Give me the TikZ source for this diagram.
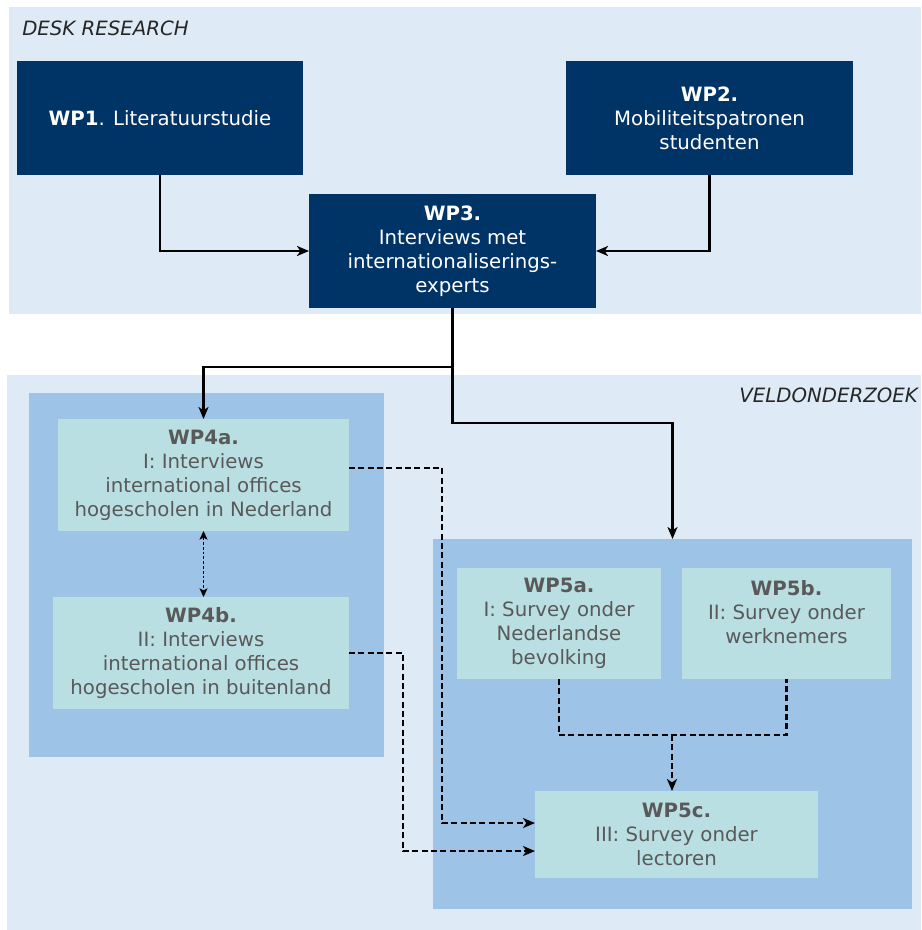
\documentclass[tikz,border=0pt]{standalone}
\usepackage{fontspec}
\setmainfont{DejaVu Sans}
\usetikzlibrary{arrows.meta}

\definecolor{panelbg}{RGB}{222,235,247}
\definecolor{groupbg}{RGB}{157,195,230}
\definecolor{navybox}{RGB}{0,51,102}
\definecolor{tealbox}{RGB}{186,223,226}
\definecolor{boxtext}{RGB}{89,89,89}
\definecolor{titletext}{RGB}{38,38,38}

\newcommand{\wpfont}{\fontsize{14.8}{18}\selectfont}

\begin{document}
\begin{tikzpicture}[x=0.75pt,y=0.75pt,yscale=-1,xscale=1,
  darkbox/.style={fill=navybox,text=white,align=center,inner sep=0pt,outer sep=0pt,font=\wpfont},
  lightbox/.style={fill=tealbox,text=boxtext,align=center,inner sep=0pt,outer sep=0pt,font=\wpfont},
  groupbox/.style={fill=groupbg,inner sep=0pt,outer sep=0pt},
  paneltitle/.style={text=titletext,inner sep=0.75pt,font=\wpfont\itshape},
  flow/.style={draw=black,line width=1.8pt,-{Stealth[length=9pt,width=7.5pt,inset=2.5pt]}},
  dashlink/.style={draw=black,line width=1.6pt,dash pattern=on 4.5pt off 2.5pt},
  dasharrow/.style={dashlink,-{Stealth[length=9pt,width=7.5pt,inset=2.5pt]}},
  dotlink/.style={draw=black,line width=1pt,dash pattern=on 2pt off 1.6pt,{Stealth[length=6.5pt,width=6pt,inset=1.5pt]}-{Stealth[length=6.5pt,width=6pt,inset=1.5pt]}}]
\useasboundingbox (0,0) rectangle (921,930);

%Shape: Rectangle (desk research panel)
\fill[panelbg] (9,7) rectangle (921,314);
%Shape: Rectangle (veldonderzoek panel)
\fill[panelbg] (7,375) rectangle (921,930);

% Text Node
\node[paneltitle,anchor=west] (desklabel) at (21,28) {DESK RESEARCH};
% Text Node
\node[paneltitle,anchor=east] (veldlabel) at (919,395) {VELDONDERZOEK};

%Desk research boxes
\node[darkbox,minimum width=214.5pt,minimum height=85.5pt] (wp1) at (160,118) {\textbf{WP1}. Literatuurstudie};
\node[darkbox,minimum width=215.25pt,minimum height=85.5pt] (wp2) at (709.5,118) {\textbf{WP2.}\\Mobiliteitspatronen\\studenten};
\node[darkbox,minimum width=215.25pt,minimum height=85.5pt] (wp3) at (452.5,251) {\textbf{WP3.}\\Interviews met\\internationaliserings-\\experts};

%Group backgrounds
\node[groupbox,minimum width=266.25pt,minimum height=273pt] (wp4grp) at (206.5,575) {};
\node[groupbox,minimum width=359.25pt,minimum height=277.5pt] (wp5grp) at (672.5,724) {};

%Field work boxes
\node[lightbox,minimum width=218.25pt,minimum height=84pt] (wp4a) at (203.5,475) {\textbf{WP4a.}\\I: Interviews\\international offices\\hogescholen in Nederland};
\node[lightbox,minimum width=222pt,minimum height=84pt] (wp4b) at (201,653) {\textbf{WP4b.}\\II: Interviews\\international offices\\hogescholen in buitenland};
\node[lightbox,minimum width=153pt,minimum height=83.25pt] (wp5a) at (559,623.5) {\textbf{WP5a.}\\I: Survey onder\\Nederlandse\\bevolking};
\node[lightbox,minimum width=156.75pt,minimum height=83.25pt] (wp5b) at (786.5,623.5) {\textbf{WP5b.}\\II: Survey onder\\werknemers\\\mbox{}};
\node[lightbox,minimum width=212.25pt,minimum height=65.25pt] (wp5c) at (676.5,834.5) {\textbf{WP5c.}\\III: Survey onder\\lectoren};

\coordinate (merge) at (672,735);

%Straight Lines
\draw[flow] (wp1) |- (wp3);
\draw[flow] (wp2) |- (wp3);
\draw[flow] (wp3.south) -- ++(0,59) -| (wp4a.north);
\draw[flow] (wp3.south) -- ++(0,115) -| (wp5grp.north);

%Dashed Lines
\draw[dotlink] (wp4a.south) -- (wp4a.south |- wp4b.north);
\draw[dasharrow] ([yshift=-5.25pt]wp4a.east) -- ++(93,0) |- ([yshift=-8.6pt]wp5c.west);
\draw[dasharrow] (wp4b.east) -- ++(54,0) |- ([yshift=12.4pt]wp5c.west);
\draw[dashlink] (wp5a.south) |- (merge) -| (wp5b.south);
\draw[dasharrow] (merge) -- (merge |- wp5c.north);

\end{tikzpicture}
\end{document}
